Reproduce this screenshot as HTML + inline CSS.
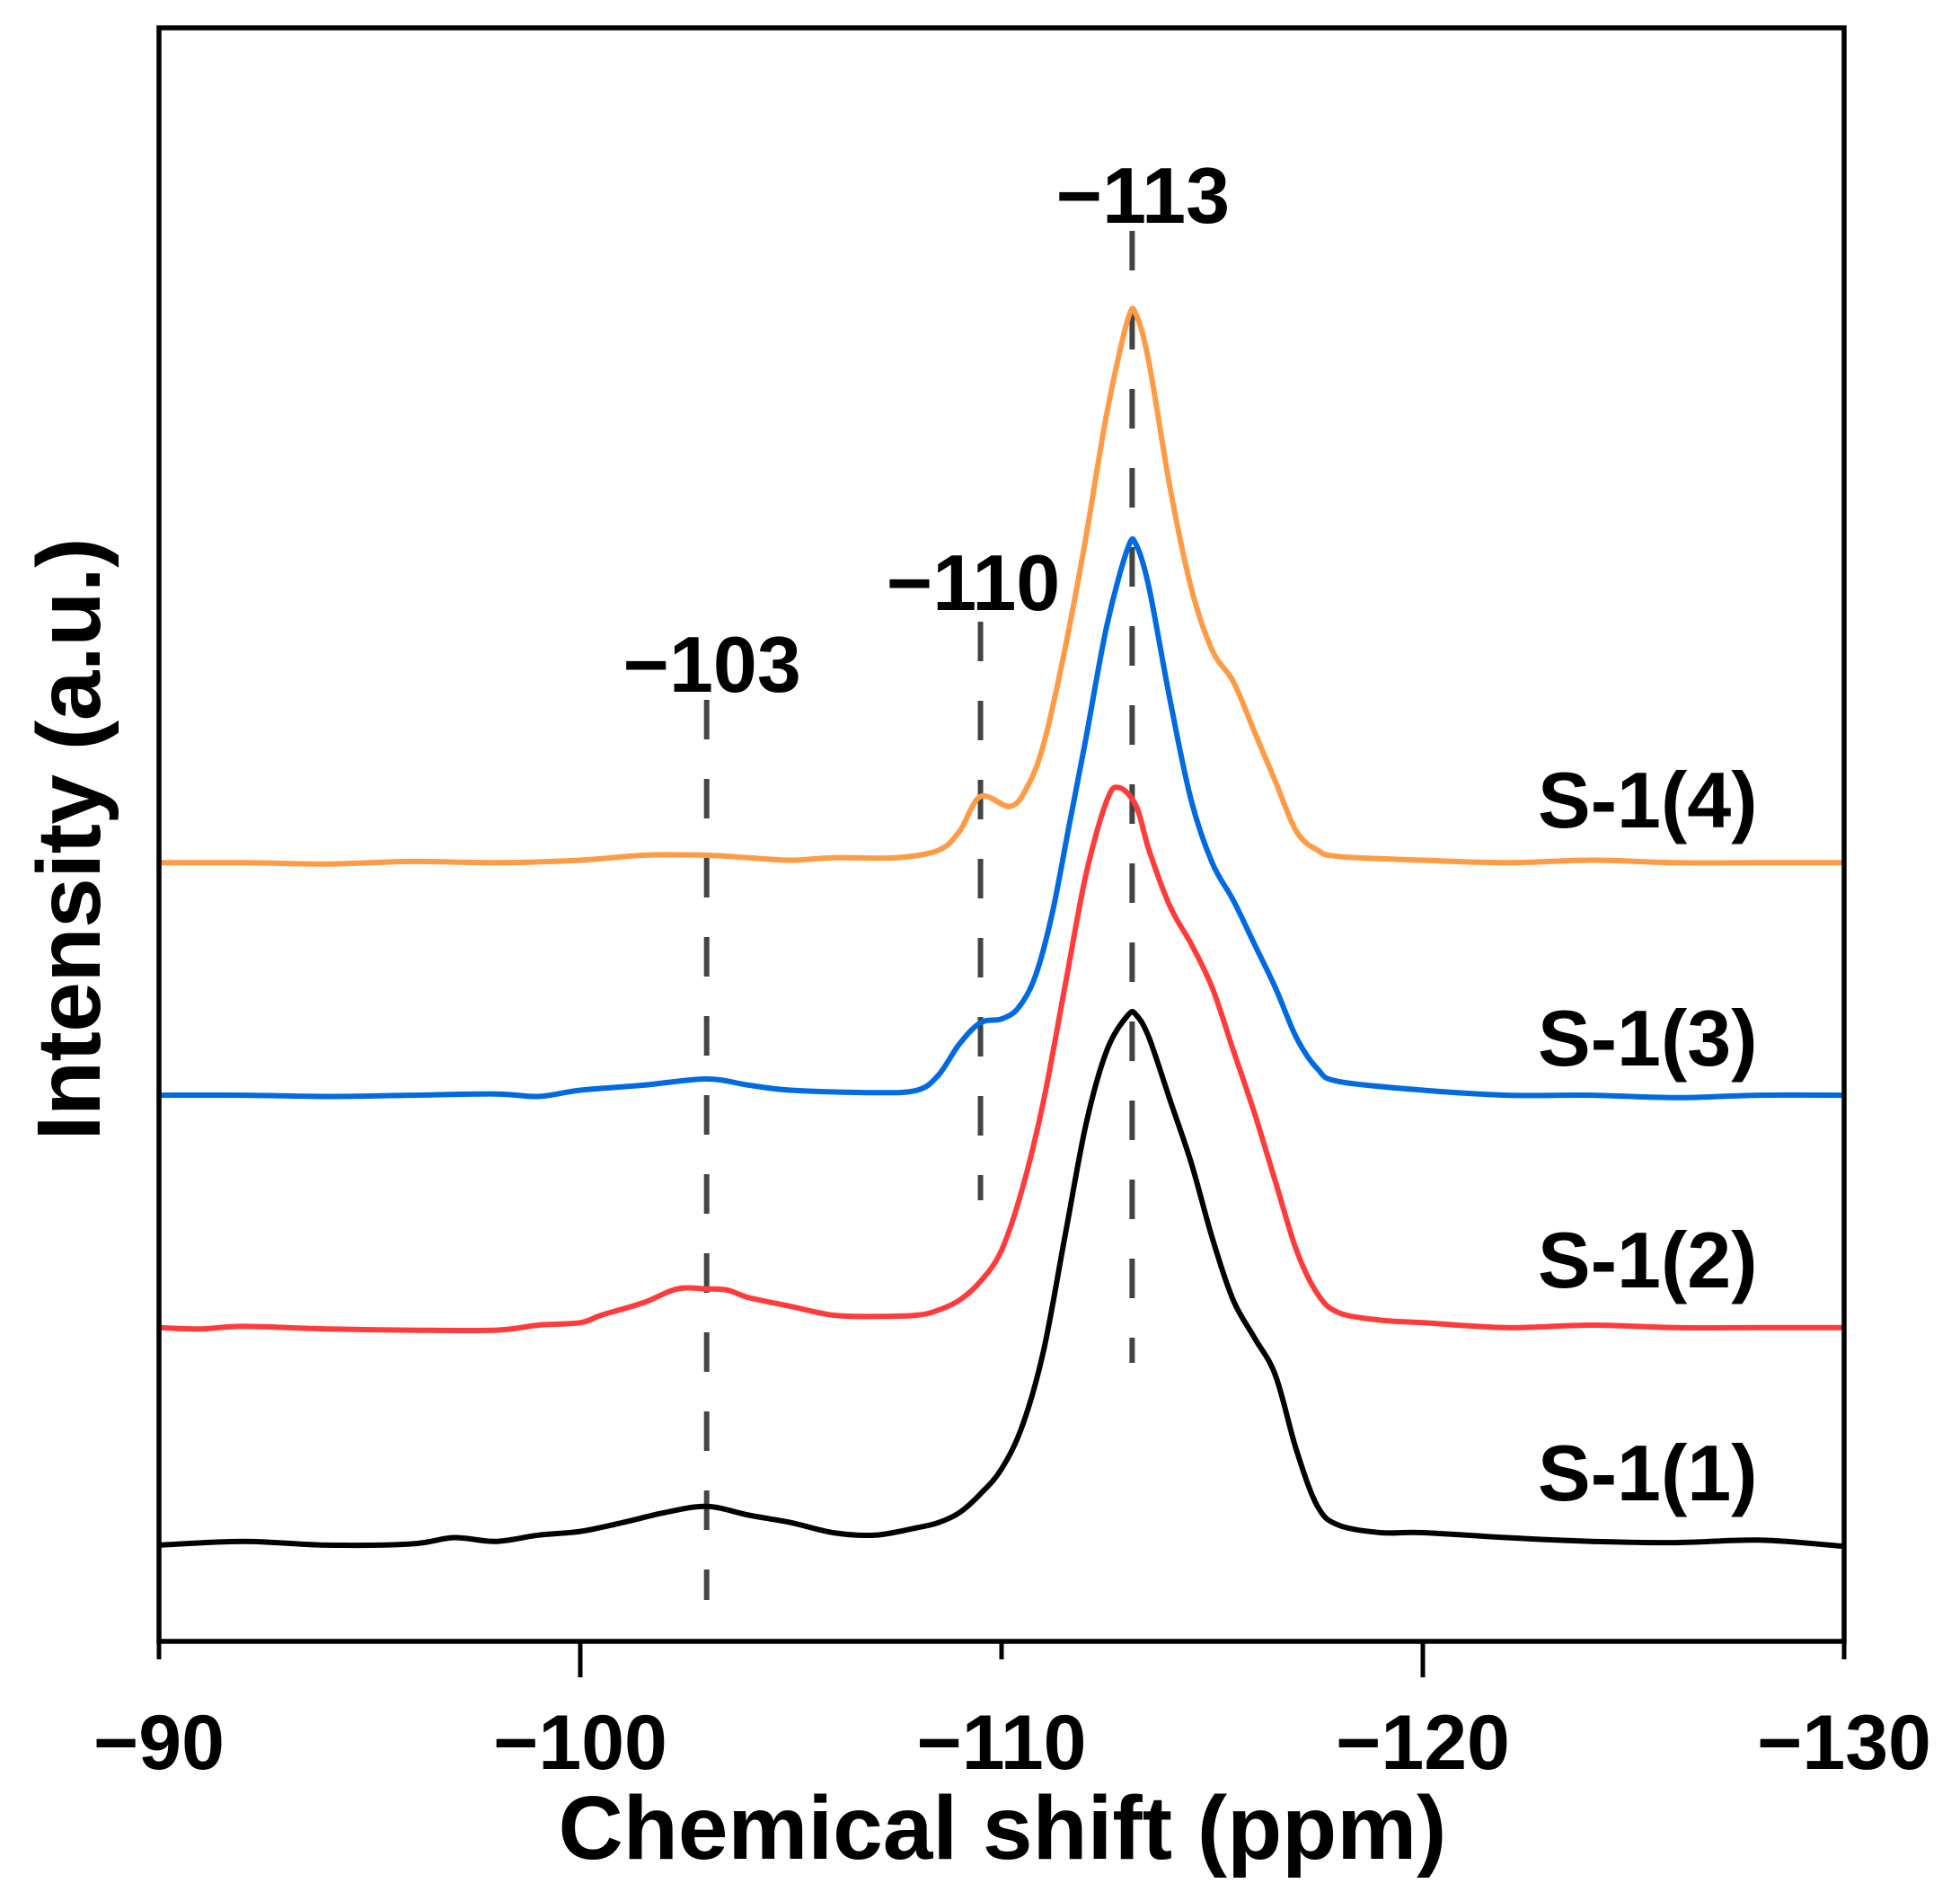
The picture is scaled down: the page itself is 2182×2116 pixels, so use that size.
<!DOCTYPE html>
<html><head><meta charset="utf-8"><style>
html,body{margin:0;padding:0;background:#fff;}
svg text{font-family:"Liberation Sans",sans-serif;font-weight:bold;fill:#000;}
</style></head><body>
<svg id="chart" width="2182" height="2111" viewBox="0 0 2182 2111" xmlns="http://www.w3.org/2000/svg">
<g id="dashes"></g>
<g id="series"></g>
<rect x="177" y="31" width="1876" height="1796" fill="none" stroke="#000" stroke-width="5.5"/>
<g id="xticks"></g>
<text x="1116" y="2069" font-size="100" text-anchor="middle">Chemical shift (ppm)</text>
<text transform="translate(111,934) rotate(-90)" font-size="100" text-anchor="middle" textLength="671">Intensity (a.u.)</text>
<g id="labels"></g>
</svg>
<script>
const xTicks=[-90,-100,-110,-120,-130];
const xTickLabels=["\u221290","\u2212100","\u2212110","\u2212120","\u2212130"];
const xTickMajor=[false,true,false,true,false];
const peakPositions=[-103,-109.5,-113.1];
const peakLabels=["\u2212103","\u2212110","\u2212113"];
const seriesNames=["S-1(1)","S-1(2)","S-1(3)","S-1(4)"];
const seriesOffsets=[7.8,25.1,43.7,62.3];
const ppm1=[-90,-92,-94,-96,-97,-98,-99,-100,-101,-102,-103,-104,-105,-106,-107,-108,-108.5,-109,-109.5,-110,-110.5,-111,-111.5,-112,-112.5,-113,-113.2,-113.5,-114,-114.5,-115,-115.5,-116,-116.5,-117,-117.5,-118,-119,-120,-122,-124,-126,-128,-130];
const int1=[-0.1,0.2,-0.1,0,0.5,0.2,0.7,1.0,1.7,2.5,3.0,2.3,1.7,0.9,0.7,1.3,1.7,2.5,4.0,6.0,9.5,15.5,24.5,33.5,39.5,42.3,42.3,40.5,35.5,30.5,24.5,19.5,16.5,13.5,7.5,3.0,1.5,0.9,0.9,0.5,0.2,0.1,0.3,-0.2];
const ppm2=[-90,-91,-92,-94,-96,-98,-99,-100,-100.5,-101.5,-102.3,-103,-103.5,-104,-105,-106,-107,-108,-108.5,-109,-109.5,-110,-110.5,-111,-111.5,-112,-112.5,-112.8,-113.2,-113.5,-114,-114.5,-115,-115.5,-116,-116.5,-117,-117.5,-118,-119,-120,-122,-124,-126,-128,-130];
const int2=[0,-0.1,0.1,-0.1,-0.2,-0.2,0.2,0.4,1.0,2.0,3.1,3.1,3.0,2.4,1.7,1.0,0.9,1.0,1.4,2.2,3.7,6.2,11.2,18.2,27.2,36.2,42.2,43.2,41.7,38.2,33.7,30.7,27.2,22.2,17.2,11.7,6.2,2.7,1.2,0.6,0.4,0,0.2,0,0,0];
const ppm3=[-90,-92,-94,-96,-98,-99,-100,-101.5,-103,-104,-105,-107,-108,-108.5,-109,-109.5,-110,-110.4,-110.8,-111.2,-111.6,-112,-112.5,-113,-113.2,-113.5,-114,-114.5,-115,-115.5,-116,-116.5,-117,-117.5,-118,-120,-122,-124,-126,-128,-130];
const int3=[0,0,-0.1,0,0.1,-0.1,0.4,0.8,1.3,0.8,0.4,0.2,0.4,1.6,4.1,5.8,6.1,7.0,9.5,14.5,21.5,28.5,37.6,43.8,44.0,40.6,31.6,23.6,18.6,15.6,12.1,8.6,4.6,2.1,1.1,0.4,0,0,-0.2,0,0];
const ppm4=[-90,-92,-94,-96,-98,-100,-101.5,-103,-104,-105,-106,-107.5,-108.5,-109,-109.5,-110.2,-110.6,-111,-111.5,-112,-112.5,-113,-113.2,-113.5,-114,-114.5,-115,-115.5,-116,-116.5,-117,-117.5,-118,-120,-122,-124,-126,-128,-130];
const int4=[0,0,-0.1,0.1,0,0.2,0.6,0.6,0.4,0.2,0.4,0.4,1.0,2.5,5.3,4.5,6.0,9.5,17.0,26.0,36.0,43.5,43.8,40.0,30.0,22.0,17.0,14.5,10.5,6.5,2.5,1.0,0.5,0.2,0,0.2,0,0,0];
const seriesPpm=[ppm1,ppm2,ppm3,ppm4];
const seriesInt=[int1,int2,int3,int4];
const colors=["#000000","#FF3B3B","#006AE0","#FF9A45"];

const NS="http://www.w3.org/2000/svg";
const X0=177,X1=2053,Y0=1827,Y1=31;
const xDom=[-90,-130],yDom=[0,129.1];
function xs(v){return X0+(v-xDom[0])/(xDom[1]-xDom[0])*(X1-X0);}
function ys(v){return Y0-(v-yDom[0])/(yDom[1]-yDom[0])*(Y0-Y1);}
function mk(tag,attrs,parent){const e=document.createElementNS(NS,tag);for(const k in attrs)e.setAttribute(k,attrs[k]);parent.appendChild(e);return e;}

const gx=document.getElementById('xticks');
xTicks.forEach((t,i)=>{
  const x=xs(t);
  const tk=mk('line',{x1:x,x2:x,y1:Y0,y2:Y0+(xTickMajor[i]?40:20),stroke:'#000','stroke-width':5},gx);
  
  
  const lb=mk('text',{x:x,y:1969,'font-size':86,'text-anchor':'middle'},gx);
  lb.textContent=xTickLabels[i];
  
  
});

const gs=document.getElementById('series');
function smoothPath(px,py){
  let d='M'+px[0].toFixed(1)+','+py[0].toFixed(1);
  for(let i=0;i<px.length-1;i++){
    const x0=px[Math.max(0,i-1)],y0=py[Math.max(0,i-1)];
    const x1=px[i],y1=py[i],x2=px[i+1],y2=py[i+1];
    const x3=px[Math.min(px.length-1,i+2)],y3=py[Math.min(px.length-1,i+2)];
    const c1x=x1+(x2-x0)/6,c1y=y1+(y2-y0)/6,c2x=x2-(x3-x1)/6,c2y=y2-(y3-y1)/6;
    d+=' C'+c1x.toFixed(1)+','+c1y.toFixed(1)+' '+c2x.toFixed(1)+','+c2y.toFixed(1)+' '+x2.toFixed(1)+','+y2.toFixed(1);
  }
  return d;
}
seriesPpm.forEach((p,s)=>{
  const px=p.map(xs),py=seriesInt[s].map(v=>ys(v+seriesOffsets[s]));
  const path=mk('path',{d:smoothPath(px,py),fill:'none',stroke:colors[s],'stroke-width':6,'stroke-linejoin':'round'},gs);
  
  
});

const gd=document.getElementById('dashes');
const dashTop=[779,692,257],dashBot=[1781,1336,1517];
const gl=document.getElementById('labels');
const labelY=[770,679,248];
const labelShift=[6,-8,12];
peakPositions.forEach((p,i)=>{
  const x=xs(p);
  const ln=mk('line',{x1:x,x2:x,y1:dashTop[i],y2:dashBot[i],stroke:'#444','stroke-width':6,'stroke-dasharray':'44 44'},gd);
  
  
  const t=mk('text',{x:x+labelShift[i],y:labelY[i],'font-size':88,'text-anchor':'middle'},gl);
  t.textContent=peakLabels[i];
  
  
});
const nameY=[1670,1433,1186,921];
seriesNames.forEach((n,i)=>{
  const t=mk('text',{x:1712,y:nameY[i],'font-size':88},gl);
  t.textContent=n;
  
  
});
</script>
</body></html>
